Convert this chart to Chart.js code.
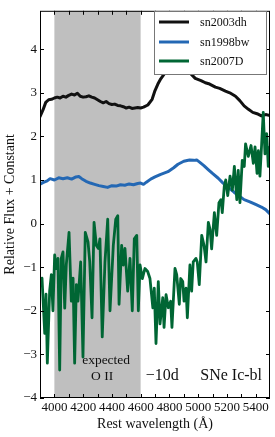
<!DOCTYPE html>
<html>
<head>
<meta charset="utf-8">
<script src="https://cdn.jsdelivr.net/npm/chart.js@4/dist/chart.umd.min.js"></script>
<style>
html,body{margin:0;padding:0;background:#fff;}
canvas{display:block;}
</style>
</head>
<body>
<canvas id="c" width="275" height="437"></canvas>
<script>
// ---- data (rest wavelength in Å, relative flux + constant) ----
const seriesNames = ["sn2003dh", "sn1998bw", "sn2007D"];

const wave2003dh = [3900,3920,3940,3960,3980,4000,4020,4040,4060,4080,4100,4120,4140,4160,4180,4200,4220,4240,4260,4280,4300,4320,4340,4360,4380,4400,4420,4440,4460,4480,4500,4520,4540,4560,4580,4600,4620,4650,4680,4700,4720,4740,4780,4830,4880,4930,4980,5020,5050,5080,5120,5150,5190,5220,5260,5290,5320,5350,5380,5410,5440,5470,5500];
const flux2003dh = [2.45,2.6,2.78,2.84,2.85,2.88,2.9,2.88,2.92,2.9,2.94,2.97,2.95,2.99,2.92,2.9,2.91,2.93,2.9,2.88,2.84,2.8,2.77,2.8,2.75,2.73,2.74,2.71,2.7,2.68,2.65,2.67,2.64,2.65,2.66,2.65,2.67,2.72,2.85,3.05,3.2,3.32,3.5,3.6,3.6,3.5,3.33,3.28,3.23,3.2,3.13,3.1,3.04,3.0,2.92,2.82,2.7,2.62,2.55,2.52,2.47,2.5,2.48];

const wave1998bw = [3900,3920,3950,3970,4000,4030,4060,4090,4120,4150,4170,4190,4220,4250,4280,4310,4340,4370,4400,4430,4460,4490,4520,4550,4580,4600,4620,4640,4670,4700,4740,4790,4830,4860,4900,4940,4970,4990,5010,5040,5070,5100,5140,5170,5190,5220,5250,5290,5320,5360,5400,5440,5470,5500];
const flux1998bw = [0.9,0.94,0.98,1.03,1.0,1.05,1.03,1.05,1.02,1.07,1.08,1.03,0.97,0.93,0.9,0.87,0.85,0.83,0.87,0.86,0.89,0.88,0.91,0.89,0.92,0.93,0.9,0.95,1.02,1.07,1.13,1.19,1.28,1.36,1.43,1.46,1.45,1.46,1.41,1.33,1.24,1.15,1.04,0.94,0.88,0.8,0.72,0.62,0.55,0.5,0.44,0.38,0.32,0.22];

const wave2007D = [3900,3914,3933,3942,3951,3967,3979,3990,4002,4013,4025,4037,4048,4060,4072,4083,4102,4118,4130,4141,4153,4164,4183,4199,4215,4234,4246,4262,4276,4292,4306,4317,4333,4352,4371,4387,4410,4427,4441,4450,4468,4479,4491,4510,4526,4542,4556,4573,4584,4596,4612,4630,4649,4665,4685,4695,4707,4723,4735,4754,4763,4777,4793,4809,4818,4839,4851,4869,4879,4893,4902,4916,4925,4943,4955,4966,4985,4994,5008,5025,5041,5055,5071,5083,5094,5113,5129,5145,5159,5168,5182,5192,5206,5222,5238,5252,5269,5279,5291,5307,5321,5330,5349,5368,5384,5396,5410,5419,5430,5442,5453,5465,5477,5488,5500];
const flux2007D = [-1.4,-1.25,-2.52,-1.62,-3.2,-1.55,-1.17,-2.0,-0.72,-1.03,-0.8,-3.36,-0.8,-0.65,-1.94,-0.94,-0.2,-1.78,-1.25,-3.2,-1.4,-1.78,-0.88,-3.06,-0.2,-0.42,-0.88,-2.16,0.03,-0.5,-0.57,-0.35,-2.6,-0.88,0.1,-2.0,-0.5,0.1,0.18,-1.85,-0.5,-0.95,-0.57,-1.55,-0.8,-2.0,-0.35,-0.27,-2.0,-0.95,-1.26,-1.03,-1.1,-1.26,-1.93,-1.48,-2.75,-1.33,-2.3,-1.7,-2.38,-1.63,-1.93,-1.78,-2.38,-1.03,-1.17,-1.85,-1.26,-1.33,-1.78,-1.48,-2.16,-0.95,-1.55,-0.88,-0.8,-0.88,-1.4,-0.27,-0.5,-0.88,0.03,-0.13,-0.58,0.25,-0.27,0.48,0.55,0.25,0.86,1.0,0.64,1.09,0.77,1.31,0.55,1.22,0.48,1.45,1.31,1.83,1.54,1.79,1.38,1.76,1.15,1.67,1.09,1.83,2.55,1.6,2.06,1.31,1.76];

const xTickValues = [4000,4200,4400,4600,4800,5000,5200,5400];
const yTickValues = [-4,-3,-2,-1,0,1,2,3,4];
const shadedRange = [4000, 4600];
const annotations = [
  {text: "expected", x: 4360, y: -3.14, size: 13.5},
  {text: "O II", x: 4332, y: -3.5, size: 13.5},
  {text: "\u221210d", x: 4750, y: -3.5, size: 16},
  {text: "SNe Ic-bl", x: 5230, y: -3.5, size: 16}
];

// ---- styling ----
const SERIF = "'Liberation Serif', 'Times New Roman', serif";
const colors = ["#111111", "#2468b4", "#006634"];

function toPoints(xs, ys){ return xs.map((x,i)=>({x:x, y:ys[i]})); }

const shadePlugin = {
  id: 'shade',
  beforeDatasetsDraw(chart){
    const {ctx, chartArea:a, scales:{x}} = chart;
    const x0 = x.getPixelForValue(shadedRange[0]);
    const x1 = x.getPixelForValue(shadedRange[1]);
    ctx.save();
    ctx.fillStyle = '#bfbfbf';
    ctx.fillRect(x0, a.top, x1 - x0, a.bottom - a.top);
    ctx.restore();
  }
};

const framePlugin = {
  id: 'frame',
  afterDatasetsDraw(chart){
    const {ctx, chartArea:a, scales:{x, y}} = chart;
    ctx.save();
    ctx.strokeStyle = '#000';
    ctx.lineWidth = 1;
    ctx.beginPath();
    const L = 4;
    for (let v = 4000; v <= 5400; v += 100){
      const px = Math.round(x.getPixelForValue(v)) + 0.5;
      ctx.moveTo(px, a.bottom); ctx.lineTo(px, a.bottom - L);
      ctx.moveTo(px, a.top); ctx.lineTo(px, a.top + L);
    }
    yTickValues.forEach(v=>{
      const py = Math.round(y.getPixelForValue(v)) + 0.5;
      ctx.moveTo(a.left, py); ctx.lineTo(a.left + L, py);
      ctx.moveTo(a.right, py); ctx.lineTo(a.right - L, py);
    });
    ctx.stroke();
    ctx.strokeRect(a.left + 0.5, a.top + 0.5, a.right - a.left - 1, a.bottom - a.top - 1);
    ctx.restore();
  },
  afterDraw(chart){
    const {ctx, scales:{x, y}} = chart;
    ctx.save();
    // legend
    const bx = 154, by = 11, bw = 112, bh = 63;
    ctx.fillStyle = '#ffffff';
    ctx.fillRect(bx, by, bw, bh);
    ctx.strokeStyle = '#777';
    ctx.lineWidth = 1;
    ctx.strokeRect(bx + 0.5, by + 0.5, bw, bh);
    const rows = [22, 42, 61];
    ctx.font = "12px " + SERIF;
    ctx.textBaseline = 'middle';
    ctx.textAlign = 'left';
    seriesNames.forEach((n, i)=>{
      ctx.strokeStyle = colors[i];
      ctx.lineWidth = 3;
      ctx.beginPath();
      ctx.moveTo(159, rows[i]); ctx.lineTo(189, rows[i]);
      ctx.stroke();
      ctx.fillStyle = '#111';
      ctx.fillText(n, 200, rows[i] + 1);
    });
    // annotations
    ctx.textAlign = 'center';
    ctx.textBaseline = 'middle';
    ctx.fillStyle = '#111';
    annotations.forEach(t=>{
      ctx.font = t.size + "px " + SERIF;
      ctx.fillText(t.text, x.getPixelForValue(t.x), y.getPixelForValue(t.y));
    });
    ctx.restore();
  }
};

const fmtNum = v => (v < 0 ? "\u2212" + Math.abs(v) : String(v));

new Chart(document.getElementById('c'), {
  type: 'line',
  data: {
    datasets: [
      {label: seriesNames[0], data: toPoints(wave2003dh, flux2003dh), borderColor: colors[0], borderWidth: 3, pointRadius: 0, order: 3},
      {label: seriesNames[1], data: toPoints(wave1998bw, flux1998bw), borderColor: colors[1], borderWidth: 3, pointRadius: 0, order: 2},
      {label: seriesNames[2], data: toPoints(wave2007D, flux2007D), borderColor: colors[2], borderWidth: 2.8, pointRadius: 0, order: 1}
    ]
  },
  options: {
    responsive: false,
    animation: false,
    devicePixelRatio: 1,
    layout: {padding: {top: 5, right: 5, left: 0, bottom: 0}},
    plugins: {legend: {display: false}, tooltip: {enabled: false}},
    elements: {line: {tension: 0, borderJoinStyle: 'round', borderCapStyle: 'round'}},
    scales: {
      x: {
        type: 'linear', min: 3900, max: 5500,
        grid: {display: false, drawTicks: false},
        border: {display: false},
        afterFit(s){ s.height = 39; },
        afterBuildTicks(s){ s.ticks = xTickValues.map(v=>({value: v})); },
        ticks: {autoSkip: false, maxRotation: 0, padding: 2, color: '#111',
          font: {family: SERIF, size: 13}, callback: v => String(v)},
        title: {display: true, text: 'Rest wavelength (Å)', color: '#111',
          font: {family: SERIF, size: 14}, padding: {top: 0, bottom: 4}}
      },
      y: {
        type: 'linear', min: -4, max: 4.88,
        grid: {display: false, drawTicks: false},
        border: {display: false},
        afterFit(s){ s.width = 40; },
        afterBuildTicks(s){ s.ticks = yTickValues.map(v=>({value: v})); },
        ticks: {autoSkip: false, padding: 3, color: '#111',
          font: {family: SERIF, size: 13}, callback: fmtNum},
        title: {display: true, text: 'Relative Flux + Constant', color: '#111',
          font: {family: SERIF, size: 14}, padding: {top: 2, bottom: 0}}
      }
    }
  },
  plugins: [shadePlugin, framePlugin]
});
</script>
</body>
</html>
